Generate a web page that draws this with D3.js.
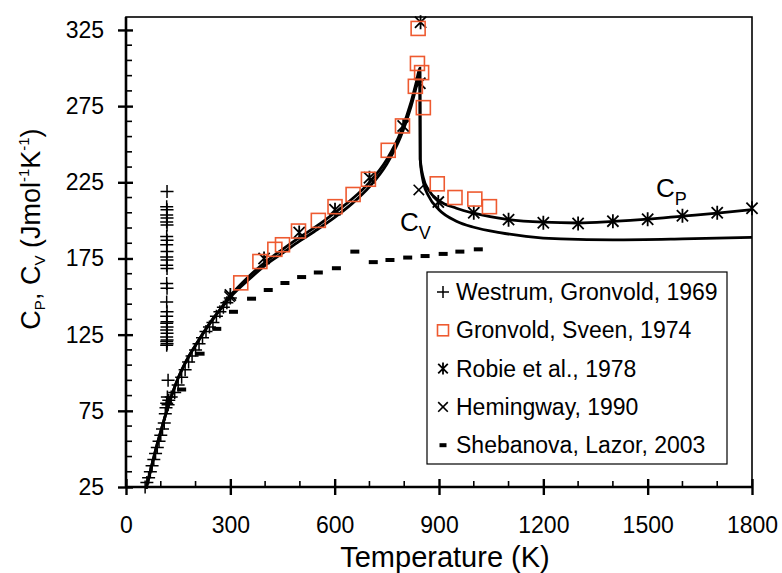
<!DOCTYPE html>
<html>
<head>
<meta charset="utf-8">
<script src="https://cdn.jsdelivr.net/npm/d3@7"></script>
<style>
  body { margin: 0; background: #fff; }
  svg text { font-family: "Liberation Sans", Arial, sans-serif; fill: #000; }
</style>
</head>
<body>
<div id="chart"></div>
<script>
// heat capacity data, [T (K), value (J/mol/K)]

const westrum1969 = [
  [55,25],[60,28],[65,31],[70,35],[75,39],[80,43],[85,47],[90,51],[95,55],[100,59],
  [105,63],[110,67],[113,73],[115,77],[117,80],[119,84],[121,79],[123,82],[130,84],
  [140,87],[150,92],[160,97],[170,102],[180,107],[190,111],[200,115],[210,119],
  [220,123],[230,127],[240,130],[250,133],[260,137],[270,140],[280,143],[290,146],[300,149],
  // Verwey transition column
  [121,95],[117,118],[118,119],[117,120.5],[118,121.5],[117,123.5],[118,126],[117,128],
  [118,130],[117,132.5],[118,133.5],[117,137],[118,140],[117,146.5],[118,155.5],
  [117,158.5],[118,168.5],[117,170.5],[118,174],[117,176],[118,179.5],[117,184],
  [118,187],[117,189.5],[118,197],[117,199],[118,201.5],[117,203.5],[118,207],
  [117,209],[118,219]
];

const gronvold1974 = [
  [330,159],[385,173],[428,181],[450,184],[496,193],[553,200],[601,209],[653,217],
  [697,227],[754,246],[795,262],[832,288],[838,303],[840,326],[850,297],[855,274],
  [895,224],[946,215],[1003,214],[1045,209]
];

const robie1978 = [
  [300,151],[397,175],[498,192],[601,207],[700,228],[797,262],[845,290],[847,330],
  [898,212],[1000,205],[1100,200.5],[1200,198.5],[1300,198],[1400,199.5],[1500,200.8],
  [1600,203],[1700,205],[1800,208]
];

const hemingway1990 = [
  [298,150],[842,220]
];

const shebanova2003 = [
  [160,89],[213,112.5],[261,128.8],[309,140],[361,148.6],[409,154.3],[457,158.9],
  [505,162.8],[553,165.8],[605,168.6],[658,179.5],[711,172.6],[759,174],[810,175.6],
  [860,176.6],[912,178],[960,179.5],[1013,181]
];

const cpCurve = [
  [58,24],[75,40],[90,53.5],[105,65.5],[120,77],[135,87.5],[150,96.5],[165,104],
  [180,110.5],[200,118],[225,127],[250,135.5],[275,143],[300,150.5],[350,162.5],
  [400,172.5],[450,181],[500,189],[550,196.5],[600,205],[650,214],[700,225],[750,240],
  [790,258],[820,278],[835,291],[845,300],[846,240],[855,228],[870,220],[900,213],
  [950,208],[1000,204.7],[1100,200.5],[1200,198.8],[1300,198.3],[1400,199.3],
  [1500,200.8],[1600,202.8],[1700,204.8],[1800,207]
];

const cvCurve = [
  [58,24],[75,40],[90,53.5],[105,65.5],[120,77],[135,87.5],[150,96.5],[165,104],
  [180,110.5],[200,118],[225,127],[250,135],[275,142.5],[300,149.5],[350,160.5],
  [400,170.5],[450,178.5],[500,186.5],[550,194],[600,202],[650,211],[700,222],[750,237],
  [790,255],[820,275],[835,288],[845,297],[846,240],[855,225],[870,216],[900,207],
  [950,199.5],[1000,195.5],[1075,192],[1150,189.5],[1250,187.8],[1400,187.2],
  [1600,187.8],[1800,188.8]
];

const xTicks = [0, 300, 600, 900, 1200, 1500, 1800];
const yTicks = [25, 75, 125, 175, 225, 275, 325];

const legendItems = [
  {label: 'Westrum, Gronvold, 1969', marker: 'plus'},
  {label: 'Gronvold, Sveen, 1974', marker: 'square'},
  {label: 'Robie et al., 1978', marker: 'star'},
  {label: 'Hemingway, 1990', marker: 'cross'},
  {label: 'Shebanova, Lazor, 2003', marker: 'dash'}
];

const W = 782, H = 573;
const margin = {top: 17, right: 30, bottom: 86, left: 126};
const width = W - margin.left - margin.right;
const height = H - margin.top - margin.bottom;
const orange = '#ee5a30';

const svg = d3.select('#chart').append('svg')
  .attr('width', W).attr('height', H);
const g = svg.append('g').attr('transform', `translate(${margin.left},${margin.top})`);

const x = d3.scaleLinear().domain([0, 1800]).range([0, width]);
const y = d3.scaleLinear().domain([25, 333.5]).range([height, 0]);

// plot frame
g.append('rect')
  .attr('width', width).attr('height', height)
  .attr('fill', 'none').attr('stroke', '#000').attr('stroke-width', 1.6);

// minor ticks
g.append('g').selectAll('line')
  .data(d3.range(100, 1800, 100).filter(d => d % 300 !== 0))
  .join('line')
  .attr('x1', d => x(d)).attr('x2', d => x(d))
  .attr('y1', height - 6).attr('y2', height)
  .attr('stroke', '#000').attr('stroke-width', 1.6);
g.append('g').selectAll('line')
  .data(d3.range(35, 334, 10).filter(d => (d - 25) % 50 !== 0))
  .join('line')
  .attr('x1', 0).attr('x2', 6)
  .attr('y1', d => y(d)).attr('y2', d => y(d))
  .attr('stroke', '#000').attr('stroke-width', 1.6);

// axes
const xAxis = g.append('g')
  .attr('transform', `translate(0,${height})`)
  .call(d3.axisBottom(x).tickValues(xTicks).tickSize(8).tickPadding(22).tickFormat(d3.format('d')));
xAxis.selectAll('.tick line').attr('y1', -8).attr('stroke-width', 2.4);
const yAxis = g.append('g')
  .call(d3.axisLeft(y).tickValues(yTicks).tickSize(8).tickPadding(14));
yAxis.selectAll('.tick line').attr('x1', 7).attr('stroke-width', 2.4);
[xAxis, yAxis].forEach(a => {
  a.select('.domain').attr('stroke-width', 2.6);
  a.selectAll('text').attr('font-size', 23).style('font-family', '"Liberation Sans", Arial, sans-serif');
});
yAxis.select('.domain').attr('d', `M0,0V${height}`);
xAxis.select('.domain').attr('d', `M0,0H${width}`);

// axis titles
svg.append('text')
  .attr('x', 445).attr('y', 567)
  .attr('text-anchor', 'middle').attr('font-size', 29)
  .text('Temperature (K)');

const yt = svg.append('text')
  .attr('transform', 'translate(40,229) rotate(-90)')
  .attr('text-anchor', 'middle').attr('font-size', 27);
yt.append('tspan').text('C');
yt.append('tspan').attr('font-size', 15).attr('dy', 5).text('P');
yt.append('tspan').attr('dy', -5).text(', C');
yt.append('tspan').attr('font-size', 15).attr('dy', 5).text('V');
yt.append('tspan').attr('dy', -5).text(' (Jmol');
yt.append('tspan').attr('font-size', 15).attr('dy', -11).text('-1');
yt.append('tspan').attr('dy', 11).text('K');
yt.append('tspan').attr('font-size', 15).attr('dy', -11).text('-1');
yt.append('tspan').attr('dy', 11).text(')');

// curves
const line = d3.line()
  .x(d => x(d[0])).y(d => y(d[1]))
  .curve(d3.curveMonotoneX);
g.append('path').datum(cvCurve)
  .attr('d', line).attr('fill', 'none')
  .attr('stroke', '#000').attr('stroke-width', 2.8);
g.append('path').datum(cpCurve)
  .attr('d', line).attr('fill', 'none')
  .attr('stroke', '#000').attr('stroke-width', 2.8);

// curve labels
function subLabel(px, py, main, sub) {
  const t = svg.append('text').attr('x', px).attr('y', py).attr('font-size', 26);
  t.append('tspan').text(main);
  t.append('tspan').attr('font-size', 18).attr('dy', 8).text(sub);
}
subLabel(656, 197, 'C', 'P');
subLabel(400, 231, 'C', 'V');

// marker shapes
function drawMarker(sel, type, s) {
  const h = s / 2;
  if (type === 'plus') {
    sel.append('path').attr('d', `M${-h},0H${h}M0,${-h}V${h}`)
      .attr('stroke', '#000').attr('stroke-width', 1.5).attr('fill', 'none');
  } else if (type === 'square') {
    sel.append('rect').attr('x', -h).attr('y', -h).attr('width', s).attr('height', s)
      .attr('stroke', orange).attr('stroke-width', 1.6).attr('fill', 'none');
  } else if (type === 'star') {
    const k = h * 0.8;
    sel.append('path').attr('d', `M${-k},${-k}L${k},${k}M${-k},${k}L${k},${-k}M0,${-h}V${h}`)
      .attr('stroke', '#000').attr('stroke-width', 1.8).attr('fill', 'none');
  } else if (type === 'cross') {
    const k = h * 0.8;
    sel.append('path').attr('d', `M${-k},${-k}L${k},${k}M${-k},${k}L${k},${-k}`)
      .attr('stroke', '#000').attr('stroke-width', 1.6).attr('fill', 'none');
  } else if (type === 'dash') {
    sel.append('rect').attr('x', -h).attr('y', -2).attr('width', s).attr('height', 4)
      .attr('fill', '#000');
  }
}

function drawSeries(data, type, s) {
  g.append('g').selectAll('g')
    .data(data)
    .join('g')
    .attr('transform', d => `translate(${x(d[0])},${y(d[1])})`)
    .each(function() { drawMarker(d3.select(this), type, s); });
}

drawSeries(shebanova2003, 'dash', 9);
drawSeries(westrum1969, 'plus', 13);
drawSeries(hemingway1990, 'cross', 13);
drawSeries(robie1978, 'star', 14);
drawSeries(gronvold1974, 'square', 14);

// legend
const lg = svg.append('g').attr('transform', 'translate(427,272)');
lg.append('rect').attr('width', 300).attr('height', 192)
  .attr('fill', '#fff').attr('stroke', '#000').attr('stroke-width', 1.2);
legendItems.forEach((d, i) => {
  const row = lg.append('g').attr('transform', `translate(16,${20 + i * 38.3})`);
  drawMarker(row, d.marker, d.marker === 'square' ? 11 : d.marker === 'dash' ? 7 : 12);
  row.append('text').attr('x', 13).attr('y', 8).attr('font-size', 23).text(d.label);
});
</script>
</body>
</html>
